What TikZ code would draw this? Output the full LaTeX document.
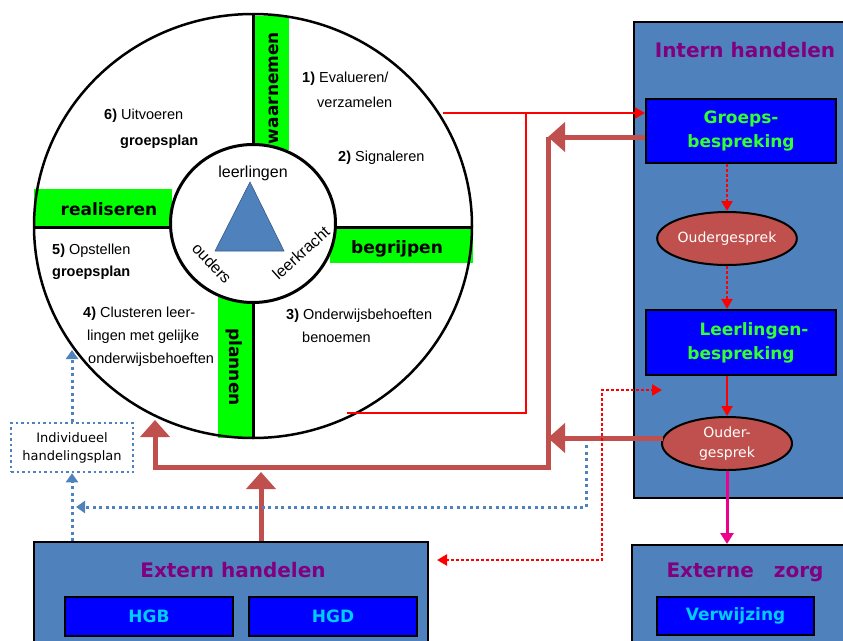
\documentclass[tikz,border=0pt]{standalone}
\usepackage{fontspec}
\setmainfont{Liberation Sans}
\newfontfamily\comic{DejaVu Sans}
\usetikzlibrary{arrows.meta,shapes.geometric,calc}
\definecolor{steel}{HTML}{4F81BD}
\definecolor{bbox}{HTML}{0000FF}
\definecolor{lime}{HTML}{00FF00}
\definecolor{purp}{HTML}{800080}
\definecolor{brick}{HTML}{C0504D}
\definecolor{txtgreen}{HTML}{33FF33}
\definecolor{txtcyan}{HTML}{00CCFF}
\begin{document}
\begin{tikzpicture}[x=1pt,y=-1pt,
  lbl/.style={font=\fontsize{14.5}{17}\selectfont, inner sep=0pt, anchor=base west},
  ctr/.style={font=\fontsize{16}{18}\selectfont, inner sep=0pt},
  bandtxt/.style={font=\comic\bfseries\fontsize{17}{20}\selectfont, inner sep=0pt},
  title/.style={font=\comic\bfseries\fontsize{20}{24}\selectfont, text=purp, inner sep=0pt, anchor=base},
  panel/.style={draw=black, line width=2pt, fill=steel, inner sep=0pt, anchor=north west},
  bluebox/.style={draw=black, line width=2.2pt, fill=bbox, inner sep=0pt, align=center},
  greentxt/.style={text=txtgreen, font=\comic\bfseries\fontsize{17}{24}\selectfont},
  cyantxt/.style={text=txtcyan, font=\comic\bfseries\fontsize{17}{20}\selectfont},
  oval/.style={ellipse, draw=black, line width=2pt, fill=brick, minimum width=130pt, minimum height=53pt, inner sep=0pt, text=white, align=center},
  brownline/.style={draw=brick, line width=5pt, line join=miter},
  bigtip/.style={-{Triangle[length=17pt,width=29pt]}},
  redline/.style={draw=red, line width=2pt},
  redtip/.style={-{Triangle[length=10pt,width=11pt]}},
  reddot/.style={draw=red, line width=2.5pt, dash pattern=on 2.5pt off 2.5pt},
  bluedot/.style={draw=steel, line width=3pt, dash pattern=on 3pt off 3.5pt},
  bluetip/.style={-{Triangle[length=9pt,width=12pt]}},
  magline/.style={draw=magenta, line width=3pt, -{Triangle[length=11pt,width=13pt]}}
]
\useasboundingbox (0,0) rectangle (843,640);
\clip (0,0) rectangle (843,640);

% ---------- circle ----------
\fill[white] (253,226) ellipse [x radius=219pt, y radius=212pt];
\fill[lime] (253,16) rectangle (289,150);
\fill[lime] (34,189) rectangle (172,226);
\fill[lime] (330,227) rectangle (473,263);
\fill[lime] (218,297) rectangle (253,438);
\draw[line width=3pt] (253,14) -- (253,438);
\draw[line width=3pt] (34,227) -- (472,227);
\draw[line width=3pt, fill=white] (253,223.5) ellipse [x radius=82.5pt, y radius=79pt];
\draw[line width=2.5pt] (253,226) ellipse [x radius=219pt, y radius=212pt];
\draw[fill=steel, draw=steel!70!black, line width=0.6pt] (250,182) -- (284,251) -- (215,251) -- cycle;

\node[bandtxt, rotate=90] (bw) at (274,88) {waarnemen};
\node[bandtxt, anchor=base] (br) at (109,215) {realiseren};
\node[bandtxt, anchor=base] (bb) at (397,253) {begrijpen};
\node[bandtxt, rotate=-90] (bp) at (234,367) {plannen};

\node[ctr, anchor=base] (cl) at (253,177) {leerlingen};
\node[ctr, rotate=-47] (co) at (212,263) {ouders};
\node[ctr, rotate=42] (ck) at (301,253) {leerkracht};

\node[lbl] (t1a) at (302,82) {\textbf{1)} Evalueren/};
\node[lbl] (t1b) at (317,107) {verzamelen};
\node[lbl] (t2) at (338,161) {\textbf{2)} Signaleren};
\node[lbl] (t6a) at (104,119) {\textbf{6)} Uitvoeren};
\node[lbl] (t6b) at (120,145) {\textbf{groepsplan}};
\node[lbl] (t5a) at (52,254) {\textbf{5)} Opstellen};
\node[lbl] (t5b) at (52,276.5) {\textbf{groepsplan}};
\node[lbl] (t4a) at (83,317) {\textbf{4)} Clusteren leer-};
\node[lbl] (t4b) at (87,340) {lingen met gelijke};
\node[lbl] (t4c) at (88,363) {onderwijsbehoeften};
\node[lbl] (t3a) at (286,319.5) {\textbf{3)} Onderwijsbehoeften};
\node[lbl] (t3b) at (302,342) {benoemen};

% ---------- panels ----------
\node[panel, minimum width=217pt, minimum height=476pt] (intern) at (633,21) {};
\node[title] (tintern) at (745,57) {Intern handelen};
\node[panel, minimum width=220pt, minimum height=110pt] (ezorg) at (631,544) {};
\node[title] (tezorg) at (745,577) {Externe\hspace{20pt}zorg};
\node[panel, minimum width=394pt, minimum height=110pt] (extern) at (33,541) {};
\node[title] (textern) at (233,577) {Extern handelen};

\node[bluebox, greentxt, minimum width=190pt, minimum height=64pt] (groeps) at (741,131) {Groeps-\\bespreking};
\node[oval, font=\comic\fontsize{14}{17}\selectfont] (e1) at (727,238.5) {Oudergesprek};
\node[bluebox, greentxt, minimum width=190pt, minimum height=65pt] (leer) at (741,342.5) {\hspace*{26pt}Leerlingen-\\bespreking};
\node[oval, font=\comic\fontsize{14}{20}\selectfont] (e2) at (727,443.5) {Ouder-\\gesprek};
\node[bluebox, cyantxt, minimum width=157pt, minimum height=38pt] (verw) at (735.5,616) {Verwijzing};
\node[bluebox, cyantxt, minimum width=168pt, minimum height=39pt] (hgb) at (149,616.5) {HGB};
\node[bluebox, cyantxt, minimum width=168pt, minimum height=39pt] (hgd) at (333,616.5) {HGD};

\node[draw=steel, line width=2.5pt, dash pattern=on 2.5pt off 3pt, minimum width=122pt, minimum height=49pt, inner sep=0pt, align=center, font=\comic\fontsize{13}{18}\selectfont] (indiv) at (72,447.5) {Individueel\\handelingsplan};

% ---------- internal arrows ----------
\draw[reddot, redtip] (groeps.south -| e1.north) -- (e1.north);
\draw[reddot, redtip] (e1.south) -- (leer.north -| e1.south);
\draw[redline, redtip] (leer.south -| e2.north) -- (e2.north);
\draw[magline] (e2.south) -- (ezorg.north -| e2.south);

% ---------- red solid lines ----------
\coordinate (rA) at (443,113);
\coordinate (rB) at (526,113);
\coordinate (rC) at (526,413);
\coordinate (rD) at (347,413);
\draw[redline] (rD) -- (rC) -- (rB);
\draw[redline, redtip] (rA) -- (rA -| groeps.west);

% ---------- brown lines ----------
\coordinate (bTop) at (548,137);
\coordinate (bBot) at (548,467);
\coordinate (bL) at (155,467);
\coordinate (bTip) at (155,420);
\coordinate (upTip) at (261,472);
\draw[brownline, bigtip] (bTop) -- (bBot) -- (bL) -- (bTip);
\draw[brownline, bigtip] (groeps.west |- bTop) -- (bTop);
\draw[brownline, bigtip] ($(e2.west)+(1.5,-5.5)$) -- ($(bTop |- e2.west)+(0,-5.5)$);
\draw[brownline, bigtip] (extern.north -| upTip) -- (upTip);

% ---------- dotted connectors ----------
\coordinate (rdL) at (437,560);
\coordinate (rdC) at (602,390);
\coordinate (rdR) at (662,390);
\draw[reddot, {Triangle[length=10pt,width=11pt]}-{Triangle[length=10pt,width=11pt]}] (rdL) -- (rdC |- rdL) -- (rdC) -- (rdR);

\coordinate (bdS) at (586,445);
\coordinate (bdE) at (76,507);
\coordinate (bUp) at (72,350);
\draw[bluedot, bluetip] (bdS) -- (bdS |- bdE) -- (bdE);
\draw[bluedot, bluetip] (extern.north west -| indiv.south) -- (indiv.south);
\draw[bluedot, bluetip] (indiv.north) -- (bUp);
\end{tikzpicture}
\end{document}
